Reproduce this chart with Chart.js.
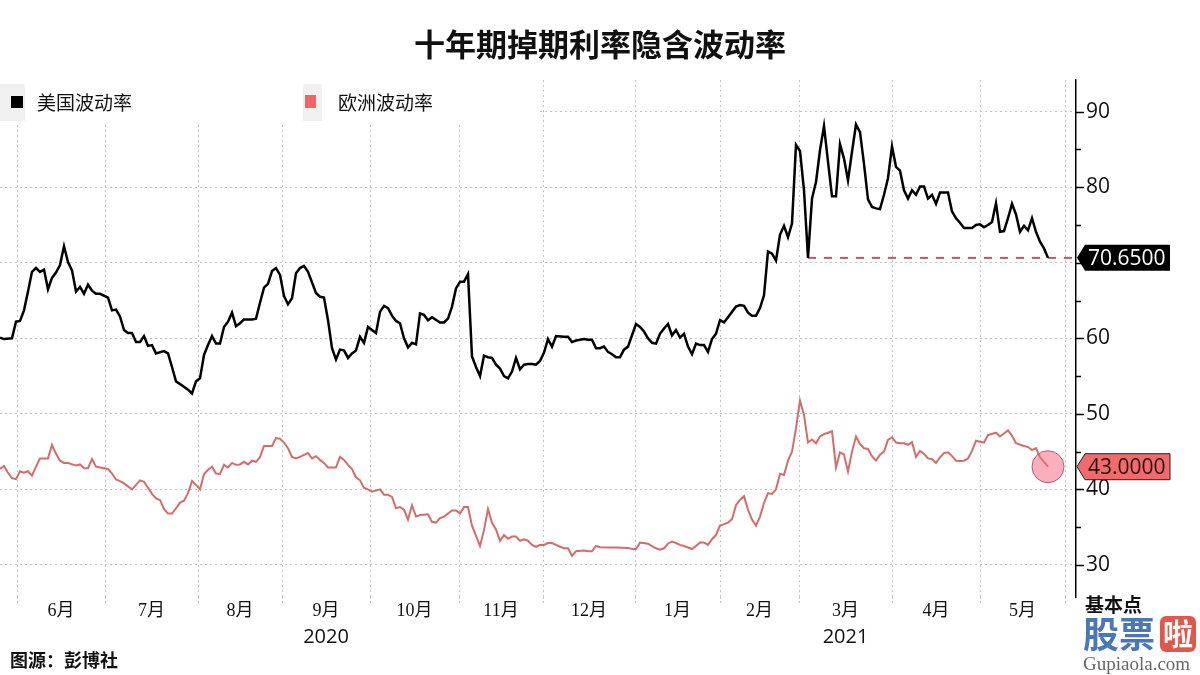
<!DOCTYPE html>
<html>
<head>
<meta charset="utf-8">
<script src="https://cdn.jsdelivr.net/npm/chart.js@4"></script>
<style>
  body { margin: 0; background: #fff; }
  #wrap { width: 1200px; height: 675px; }
</style>
</head>
<body>
<div id="wrap"><canvas id="chart"></canvas></div>
<script>
// trading-day index (0 = late May 2020) and implied vol
const usDays = [0,1,3,4,5,6,7,8,9,10,11,12,13,14,15,16,17,18,19,20,21,22,23,24,25,27,28,29,30,31,32,33,34,35,36,37,38,39,41,42,43,44,46,47,48,49,50,51,52,53,54,55,56,57,58,59,60,61,63,64,65,66,67,68,69,70,71,72,73,74,75,76,77,79,80,81,82,83,84,85,86,87,88,89,90,91,92,94,95,96,97,98,99,100,101,102,103,104,105,106,107,108,110,111,112,113,114,115,116,117,118,119,120,121,122,123,124,125,126,127,128,129,130,131,132,133,134,135,136,137,138,139,141,142,143,144,146,147,148,149,150,151,152,153,154,155,156,157,158,159,160,161,162,163,164,165,166,167,168,169,170,171,172,173,174,175,176,177,178,179,180,181,182,183,184,185,186,187,188,189,190,191,192,193,194,195,196,197,198,199,200,201,202,203,204,205,206,207,208,209,210,211,212,213,214,215,216,217,218,219,220,221,222,223,224,225,226,227,228,229,230,231,232,233,234,235,236,237,238,239,240,241,243,244,245,246,247,248,249,250,251,252,253,254,255,256,257,258,259,260,261,262];
const usVol = [60.1,59.9,60.0,62.2,62.3,63.7,66.2,68.8,69.3,68.8,69.1,66.5,68.0,68.7,69.7,72.2,70.1,69.0,66.2,66.8,65.9,67.1,66.3,65.9,65.9,65.4,63.7,63.8,62.9,61.1,60.7,60.7,59.5,59.5,60.3,59.0,59.1,58.0,58.3,58.0,56.2,54.3,53.6,53.2,52.7,54.3,54.7,57.8,59.1,60.3,59.3,59.3,61.5,62.2,63.4,61.6,62.0,62.5,62.5,62.6,64.7,66.7,67.2,68.9,69.3,68.4,65.6,64.5,65.3,68.6,69.3,69.6,68.8,66.0,65.5,65.4,62.4,58.7,57.2,58.5,58.4,57.4,58.0,58.4,60.2,59.4,61.5,60.7,63.5,64.3,64.0,63.0,62.3,62.0,60.0,58.8,59.4,59.2,63.3,63.1,62.4,62.8,62.1,62.1,62.6,64.2,66.6,67.5,67.5,68.5,57.6,56.2,55.0,57.7,57.5,57.4,56.5,56.0,55.0,54.7,55.6,57.4,55.9,56.5,56.6,56.6,56.5,57.0,58.1,59.9,58.9,60.3,60.2,60.2,59.5,59.7,59.9,59.8,59.8,58.7,58.7,58.9,58.2,57.9,57.5,57.5,58.5,58.9,60.4,61.9,61.5,60.9,60.0,59.4,59.3,60.6,61.3,61.9,60.4,61.1,60.1,60.6,58.9,57.9,59.3,59.1,59.1,58.2,59.9,60.6,62.4,62.1,62.8,63.5,64.2,64.4,64.3,63.4,63.0,63.0,64.0,65.7,71.5,71.2,70.3,73.7,74.9,73.4,75.2,85.6,84.8,79.6,70.65,78.5,80.7,84.9,88.1,83.4,78.8,78.8,85.7,83.8,80.9,84.7,88.3,87.3,83.1,78.4,77.4,77.2,77.1,79.0,81.2,85.4,82.7,82.2,79.6,78.5,79.6,79.0,80.1,80.1,78.5,79.0,77.8,79.3,79.3,79.3,76.8,75.9,75.3,74.6,74.6,75.0,75.1,74.7,75.0,75.4,77.9,74.1,74.2,75.9,77.8,76.4,74.1,74.9,74.3,75.9,74.1,72.8,71.9,70.65];

const euDays = [0,1,2,3,4,5,6,7,8,9,10,12,13,14,15,16,17,19,20,21,22,23,24,25,27,28,29,30,31,32,33,34,35,36,37,38,39,40,41,42,43,44,45,46,47,48,49,50,51,52,53,54,55,56,57,58,59,60,61,62,63,64,65,66,67,68,69,70,71,72,73,74,75,77,78,79,80,81,82,84,85,86,87,88,89,90,91,92,93,95,96,97,98,99,100,101,102,103,104,105,107,108,109,110,111,113,114,115,116,117,118,120,121,122,123,124,125,126,127,128,129,130,131,132,133,134,135,136,137,138,139,140,141,142,143,144,146,147,148,149,150,152,154,157,158,159,160,162,163,164,165,166,167,168,169,170,171,173,174,175,176,177,178,179,180,181,182,183,184,185,186,187,188,189,190,191,192,193,194,195,196,197,198,199,200,201,202,203,204,205,206,208,209,210,211,212,213,214,215,216,217,218,219,220,221,222,223,224,225,226,227,228,229,230,231,232,233,234,235,236,237,238,239,240,241,242,243,244,245,246,247,249,250,251,252,253,254,256,257,258,259,260,262];
const euVol = [42.7,43.1,42.2,41.5,41.35,42.4,42.2,42.4,41.8,43.0,44.1,44.1,45.9,44.7,43.8,43.5,43.5,43.15,43.3,42.8,42.8,44.0,43.0,42.9,42.7,42.1,41.3,41.1,40.8,40.4,40.0,40.6,41.2,41.0,40.2,39.4,38.8,38.6,37.4,36.8,36.8,37.5,38.25,38.5,39.5,41.1,40.6,40.0,42.0,42.6,43.0,42.1,42.05,43.25,42.9,43.5,43.25,43.3,43.65,43.3,43.8,43.65,44.25,45.75,45.75,45.75,46.8,46.7,46.2,45.45,44.3,44.1,44.3,44.8,44.1,44.4,43.9,43.5,42.9,42.9,44.3,43.9,43.25,42.7,41.6,41.2,40.2,40.0,39.7,40.0,39.3,39.3,39.0,37.5,37.65,37.3,36.0,37.9,36.4,36.6,36.7,35.7,35.6,36.2,36.4,37.2,37.2,36.8,37.65,37.65,35.2,32.5,34.6,37.4,35.6,34.7,33.2,33.95,33.45,33.75,33.75,33.2,33.4,33.2,32.65,32.4,32.65,32.65,32.9,32.9,32.65,32.4,32.2,32.2,31.2,31.8,31.9,31.8,31.8,32.5,32.35,32.3,32.3,32.25,32.1,32.1,32.95,32.8,32.5,32.2,32.0,32.2,32.8,33.1,32.9,32.65,32.5,32.1,32.5,32.95,32.95,32.65,33.4,33.95,35.2,35.4,35.6,36.05,37.9,38.6,39.1,37.3,36.0,35.2,36.4,38.2,39.5,39.4,40.0,42.05,41.9,43.8,45.0,48.1,51.75,49.85,46.2,46.6,46.1,47.0,47.3,47.7,42.9,44.9,44.6,42.35,45.0,47.0,46.0,45.45,45.35,44.4,43.8,44.6,45.0,46.55,46.9,46.2,46.1,46.1,45.9,46.25,44.3,45.1,44.7,44.1,44.0,43.5,44.25,44.8,44.9,44.4,43.8,43.75,43.8,44.1,45.1,46.45,46.3,46.2,47.2,47.5,47.0,47.4,47.8,47.1,46.1,45.75,45.6,45.2,45.45,44.25,43.0];

// month boundaries in trading-day units, and their labels
const monthEdges = [4.25, 26.25, 49.5, 70.5, 92.5, 114.75, 135.75, 158.75, 180, 199.75, 223, 245, 266.25];
const monthNames = ['6月','7月','8月','9月','10月','11月','12月','1月','2月','3月','4月','5月'];
const yearLabels = { 3: '2020', 9: '2021' };
const yTicks = [30,35,40,45,50,55,60,65,70,75,80,85,90];

const usLast = usVol[usVol.length - 1];
const euLast = euVol[euVol.length - 1];
// reference line starts where the US series was last at today's level
let refStart = 0;
for (let i = usVol.length - 2; i >= 0; i--) {
  if (usVol[i] <= usLast) { refStart = usDays[i]; break; }
}

const CJK = '"Noto Sans CJK SC"';

function tag(ctx, x, y, text, fill, color, stroke) {
  ctx.save();
  ctx.beginPath();
  ctx.moveTo(x, y);
  ctx.lineTo(x + 8, y - 13);
  ctx.lineTo(x + 93, y - 13);
  ctx.lineTo(x + 93, y + 13);
  ctx.lineTo(x + 8, y + 13);
  ctx.closePath();
  ctx.fillStyle = fill;
  ctx.fill();
  if (stroke) { ctx.strokeStyle = stroke; ctx.lineWidth = 1; ctx.stroke(); }
  ctx.fillStyle = color;
  ctx.font = '21px "Open Sans"';
  ctx.textBaseline = 'middle';
  ctx.textAlign = 'left';
  ctx.fillText(text, x + 11, y + 1);
  ctx.restore();
}

const decor = {
  id: 'decor',
  beforeDatasetsDraw(chart) {
    const ctx = chart.ctx;
    ctx.save();
    ctx.fillStyle = '#fff';
    ctx.fillRect(0, 79, 537, 43);
    ctx.restore();
  },
  afterDraw(chart) {
    const ctx = chart.ctx;
    const xs = chart.scales.x, ys = chart.scales.y;
    const area = chart.chartArea;
    ctx.save();

    // title
    ctx.fillStyle = '#111';
    ctx.font = 'bold 31px ' + CJK;
    ctx.textAlign = 'center';
    ctx.textBaseline = 'middle';
    ctx.fillText('十年期掉期利率隐含波动率', 600, 44);

    // legend
    ctx.fillStyle = '#f0f0f0';
    ctx.fillRect(0, 84, 25, 37);
    ctx.fillRect(303, 84, 19, 37);
    ctx.fillStyle = '#000';
    ctx.fillRect(11, 96, 12, 12);
    ctx.fillStyle = '#f06565';
    ctx.fillRect(305, 95, 11, 13);
    ctx.fillStyle = '#111';
    ctx.font = '19px ' + CJK;
    ctx.textAlign = 'left';
    ctx.fillText('美国波动率', 37, 103);
    ctx.fillText('欧洲波动率', 338, 103);

    // y tick marks
    ctx.strokeStyle = '#000';
    ctx.lineWidth = 1.5;
    yTicks.forEach(v => {
      const py = Math.round(ys.getPixelForValue(v)) + 0.5;
      const len = v % 10 === 0 ? 8 : 5;
      ctx.beginPath();
      ctx.moveTo(area.right, py);
      ctx.lineTo(area.right + len, py);
      ctx.stroke();
    });

    // month and year labels
    ctx.fillStyle = '#111';
    ctx.textAlign = 'center';
    for (let i = 0; i < monthNames.length; i++) {
      const px = xs.getPixelForValue((monthEdges[i] + monthEdges[i + 1]) / 2);
      ctx.font = '18px "Liberation Serif", ' + CJK;
      ctx.fillText(monthNames[i], px, 611);
      if (yearLabels[i]) {
        ctx.font = '20px "Open Sans"';
        ctx.fillText(yearLabels[i], px, 637);
      }
    }

    // unit, source
    ctx.textAlign = 'left';
    ctx.font = 'bold 19px ' + CJK;
    ctx.fillText('基本点', 1085, 605);
    ctx.font = 'bold 18px ' + CJK;
    ctx.fillText('图源：彭博社', 10, 660);

    // value tags
    tag(ctx, area.right + 1, ys.getPixelForValue(usLast), usLast.toFixed(4), '#000', '#fff', null);
    tag(ctx, area.right + 1, ys.getPixelForValue(euLast), euLast.toFixed(4), '#f06b6b', '#2a0a0a', '#222');

    // watermark
    ctx.font = 'bold 36px ' + CJK;
    ctx.fillStyle = '#4a78b6';
    ctx.textBaseline = 'middle';
    ctx.fillText('股票', 1083, 634);
    ctx.fillStyle = '#e2574c';
    ctx.beginPath();
    ctx.roundRect(1160, 616, 36, 36, 6);
    ctx.fill();
    ctx.fillStyle = '#fff';
    ctx.font = 'bold 30px ' + CJK;
    ctx.fillText('啦', 1163, 634);
    ctx.fillStyle = '#666';
    ctx.font = '19px "Liberation Serif"';
    ctx.fillText('Gupiaola.com', 1083, 665);

    ctx.restore();
  }
};

new Chart(document.getElementById('chart'), {
  type: 'line',
  data: {
    datasets: [
      {
        label: '美国波动率',
        data: usDays.map((d, i) => ({ x: d, y: usVol[i] })),
        borderColor: '#000',
        borderWidth: 2.5,
        pointRadius: 0,
        tension: 0
      },
      {
        label: '欧洲波动率',
        data: euDays.map((d, i) => ({ x: d, y: euVol[i] })),
        borderColor: '#d46c6c',
        borderWidth: 2,
        pointRadius: (c) => c.dataIndex === euVol.length - 1 ? 16 : 0,
        pointBackgroundColor: 'rgba(246,110,135,0.55)',
        pointBorderColor: '#c4566a',
        pointBorderWidth: 1,
        tension: 0
      },
      {
        label: 'ref',
        data: [{ x: refStart, y: usLast }, { x: 269, y: usLast }],
        borderColor: '#cc4f6a',
        borderWidth: 2,
        borderDash: [8, 8],
        pointRadius: 0
      }
    ]
  },
  options: {
    responsive: true,
    maintainAspectRatio: false,
    animation: false,
    layout: { autoPadding: false, padding: { top: 80, left: 0, right: 0, bottom: 0 } },
    plugins: {
      legend: { display: false },
      tooltip: { enabled: false }
    },
    scales: {
      x: {
        type: 'linear',
        min: 0,
        max: 269,
        afterBuildTicks: (scale) => { scale.ticks = monthEdges.map(v => ({ value: v })); },
        afterFit: (scale) => { scale.height = 78; },
        ticks: { display: false },
        grid: {
          color: '#c4c4c4',
          lineWidth: 1,
          drawTicks: true,
          tickLength: 6,
          tickColor: '#c4c4c4',
          tickBorderDash: [2, 2]
        },
        border: { display: false, dash: [2, 3] }
      },
      y: {
        position: 'right',
        min: 25.75,
        max: 94.2,
        afterBuildTicks: (scale) => { scale.ticks = yTicks.map(v => ({ value: v })); },
        afterFit: (scale) => { scale.width = 124; },
        ticks: {
          padding: 10,
          color: '#111',
          font: { family: 'Open Sans', size: 21 },
          callback: (v) => v % 10 === 0 ? v : ''
        },
        grid: {
          color: (c) => c.tick && c.tick.value % 10 === 0 ? '#c4c4c4' : 'transparent',
          drawTicks: false
        },
        border: { display: true, color: '#000', width: 1.5, dash: [2, 3] }
      }
    }
  },
  plugins: [decor]
});
</script>
</body>
</html>
